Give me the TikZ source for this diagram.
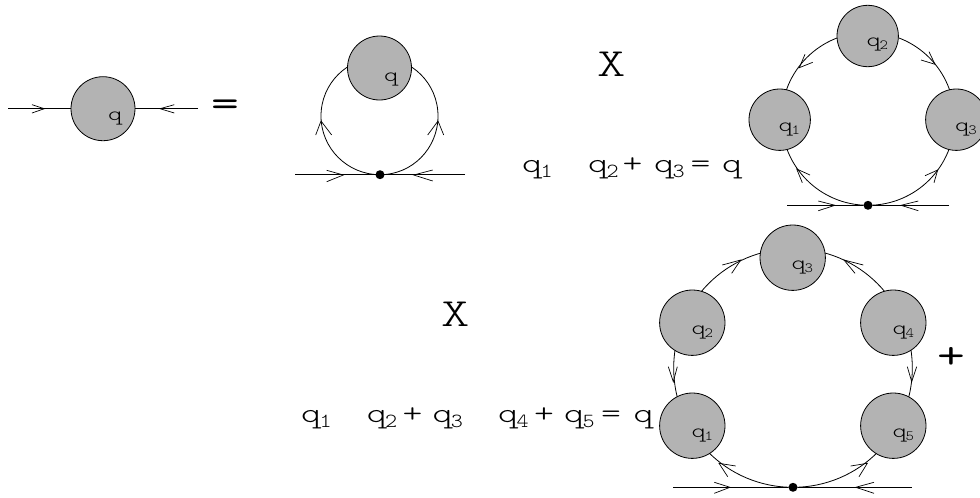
\documentclass[tikz,border=0pt]{standalone}
\usepackage{fontspec}
\newfontfamily\courlike[FakeStretch=1.35]{Latin Modern Mono Light}
\newfontfamily\courheavy[FakeStretch=1.35]{Latin Modern Mono}
\newfontfamily\sublike[FakeStretch=1.15]{Latin Modern Mono Light}
\usetikzlibrary{backgrounds}
\definecolor{blobgrey}{HTML}{B3B3B3}
\newcommand{\bigsub}[1]{\kern-1.5pt\raisebox{-5pt}{\sublike\fontsize{20}{22}\selectfont #1}}
\newcommand{\smallsub}[1]{\kern-1pt\raisebox{-3pt}{\sublike\fontsize{14}{16}\selectfont #1}}
\tikzset{
  wire/.style={draw=black,line width=0.8pt},
  barbtip/.style={draw=black,line width=0.7pt,line join=miter},
  blob/.style={circle,draw=black,line width=0.8pt,fill=blobgrey,inner sep=0pt,minimum size=#1},
  vertexdot/.style={circle,fill=black,inner sep=0pt,minimum size=9pt},
  biglabel/.style={anchor=base west,inner sep=0pt,font=\courlike\fontsize{28}{30}\selectfont},
  inlabel/.style={anchor=base west,inner sep=0pt,font=\courlike\fontsize{20}{22}\selectfont},
  hugelabel/.style={anchor=center,inner sep=0pt,font=\courlike\fontsize{40}{44}\selectfont},
  heavylabel/.style={anchor=center,inner sep=0pt,font=\courheavy\fontsize{40}{44}\selectfont}
}
\begin{document}
\begin{tikzpicture}[x=1pt,y=-1pt]
\useasboundingbox (0,0) rectangle (980,498);
% --- diagram 1
\node[blob=64pt] (Aq) at (103,108.7) {};
\coordinate (Al) at (8,108.7);
\coordinate (Ar) at (198,108.7);
\node[inlabel] (Aql) at (108,120) {q};
\node[heavylabel] (eq) at (225,108) {=};
% --- diagram 2
\node[blob=64pt] (Bq) at (379.5,68) {};
\node[vertexdot] (Bv) at (380,174.7) {};
\coordinate (Bl) at (295,174.7);
\coordinate (Br) at (465,174.7);
\coordinate (Bw) at (321,116);
\coordinate (Be) at (438,116);
\coordinate (Bt) at (379.5,57.5);
\node[inlabel] (Bql) at (384,81.5) {q};
% --- diagram 3
\node[blob=61.4pt] (C1) at (779.7,119.7) {};
\node[blob=61.4pt] (C2) at (867.7,36) {};
\node[blob=61.4pt] (C3) at (956.3,119.7) {};
\node[vertexdot] (Cv) at (868,205.3) {};
\coordinate (Cl) at (787,205.3);
\coordinate (Cr) at (949,205.3);
\coordinate (Cw) at (781.5,118.8);
\coordinate (Ce) at (954.5,118.8);
\coordinate (Ct) at (868,32.3);
\node[inlabel] (C1l) at (778.3,131.7) {q\smallsub{1}};
\node[inlabel] (C2l) at (866.3,46) {q\smallsub{2}};
\node[inlabel] (C3l) at (955,131.7) {q\smallsub{3}};
\node[hugelabel] (X1) at (611.5,64.5) {X};
\node[biglabel] (t1) at (522,172) {q\bigsub{1}};
\node[biglabel] (t2) at (588,172) {q\bigsub{2}};
\node[biglabel] (t3) at (622.5,172) {+};
\node[biglabel] (t4) at (654,172) {q\bigsub{3}};
\node[biglabel] (t5) at (690.5,172) {=};
\node[biglabel] (t6) at (722,172) {q};
% --- diagram 4
\node[blob=65.4pt] (D1) at (692.3,425.7) {};
\node[blob=65.4pt] (D2) at (692.3,322.7) {};
\node[blob=65.4pt] (D3) at (792.7,257.7) {};
\node[blob=65.4pt] (D4) at (893.3,322.7) {};
\node[blob=65.4pt] (D5) at (893.3,425.7) {};
\node[vertexdot] (Dv) at (793,487.3) {};
\coordinate (Dl) at (673,487.3);
\coordinate (Dr) at (911.7,487.3);
\coordinate (Dw) at (673.7,368);
\coordinate (De) at (912.3,368);
\coordinate (Dt) at (793,248.7);
\node[inlabel] (D1l) at (691.3,437) {q\smallsub{1}};
\node[inlabel] (D2l) at (691.3,334) {q\smallsub{2}};
\node[inlabel] (D3l) at (791.3,269) {q\smallsub{3}};
\node[inlabel] (D4l) at (892.3,334) {q\smallsub{4}};
\node[inlabel] (D5l) at (892.3,437) {q\smallsub{5}};
\node[hugelabel] (X2) at (456,314) {X};
\node[heavylabel] (plus) at (951,358) {+};
\node[biglabel] (u1) at (301,422.7) {q\bigsub{1}};
\node[biglabel] (u2) at (366.7,422.7) {q\bigsub{2}};
\node[biglabel] (u3) at (402.5,422.7) {+};
\node[biglabel] (u4) at (432.3,422.7) {q\bigsub{3}};
\node[biglabel] (u5) at (498,422.7) {q\bigsub{4}};
\node[biglabel] (u6) at (534,422.7) {+};
\node[biglabel] (u7) at (564,422.7) {q\bigsub{5}};
\node[biglabel] (u8) at (601,422.7) {=};
\node[biglabel] (u9) at (633.3,422.7) {q};
% --- connectors behind the blobs
\begin{scope}[on background layer]
\draw[wire] (Al) -- (Aq);
\draw[wire] (Ar) -- (Aq);
\draw[wire] (Bl) -- (Bv);
\draw[wire] (Br) -- (Bv);
\draw[wire] (Bv.center) to[out=180,in=-90] (Bw) to[out=90,in=180] (Bt) to[out=0,in=90] (Be) to[out=-90,in=0] (Bv.center);
\draw[wire] (Cl) -- (Cv);
\draw[wire] (Cr) -- (Cv);
\draw[wire] (Cv.center) to[out=180,in=-90] (Cw) to[out=90,in=180] (Ct) to[out=0,in=90] (Ce) to[out=-90,in=0] (Cv.center);
\draw[wire] (Dl) -- (Dv);
\draw[wire] (Dr) -- (Dv);
\draw[wire] (Dv.center) to[out=180,in=-90] (Dw) to[out=90,in=180] (Dt) to[out=0,in=90] (De) to[out=-90,in=0] (Dv.center);
\end{scope}
% --- arrowheads
\draw[barbtip] (32,104.7) -- (44.3,108.7) -- (32,113);
\draw[barbtip] (174.3,104.7) -- (160,108.7) -- (174.3,113);
\draw[barbtip] (315.7,135) -- (321,121) -- (331.7,135);
\draw[barbtip] (427.7,135) -- (438,121) -- (443.7,135);
\draw[barbtip] (326.7,170.3) -- (343.3,175) -- (326.7,181.7);
\draw[barbtip] (432.7,170) -- (413.7,175) -- (432.7,181);
\draw[barbtip] (805,54.3) -- (799.3,67.7) -- (812.7,62.3);
\draw[barbtip] (929,51.7) -- (935,64.3) -- (921,60);
\draw[barbtip] (810,175) -- (796.7,169) -- (802.3,182.7);
\draw[barbtip] (925,175.7) -- (937.7,170) -- (934,182.7);
\draw[barbtip] (818.3,201) -- (835,205.3) -- (818.3,210.7);
\draw[barbtip] (918.3,201) -- (901,205.3) -- (918.3,210.7);
\draw[barbtip] (722.3,265) -- (740.7,260) -- (731.7,273.3);
\draw[barbtip] (863.3,265) -- (844,260) -- (855,273.3);
\draw[barbtip] (668.3,366.7) -- (673.3,381.7) -- (677.3,366.7);
\draw[barbtip] (907.3,366.7) -- (911.7,381.7) -- (916.7,366.7);
\draw[barbtip] (735.7,466) -- (719,463.3) -- (727.7,476.7);
\draw[barbtip] (850.7,466) -- (867.3,463.3) -- (859,476.7);
\draw[barbtip] (714.3,482.3) -- (730,487.3) -- (714.3,493.3);
\draw[barbtip] (874,482.3) -- (855.7,487.3) -- (874,493.3);
\end{tikzpicture}
\end{document}
